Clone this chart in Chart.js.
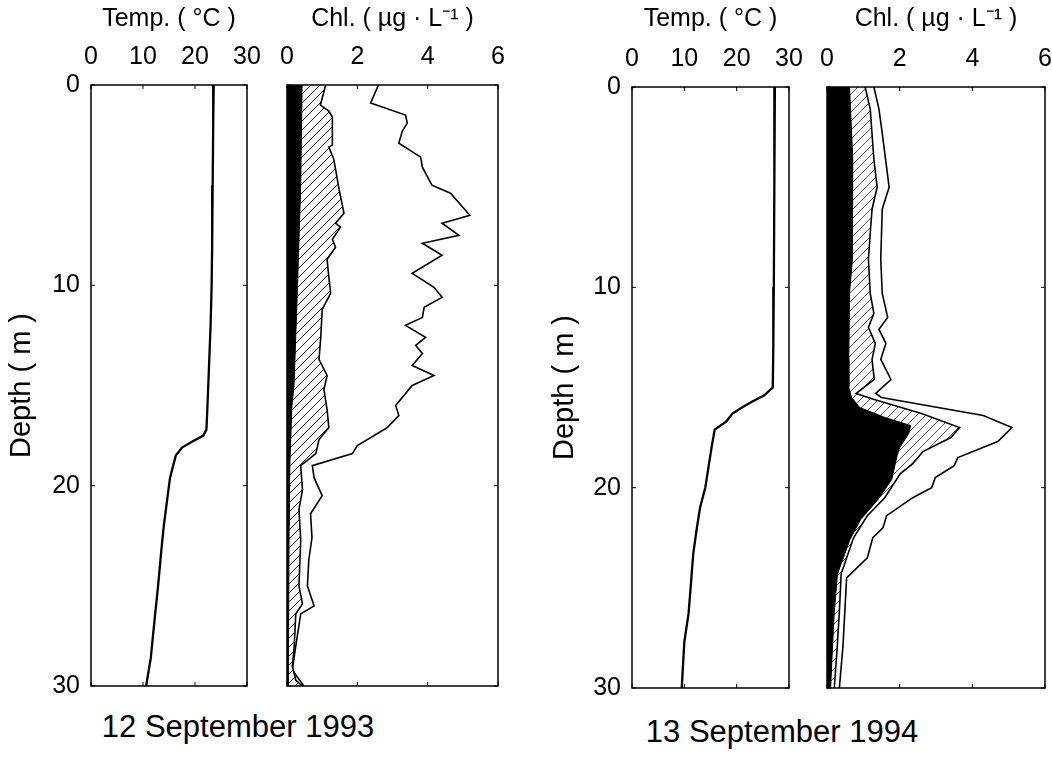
<!DOCTYPE html>
<html>
<head>
<meta charset="utf-8">
<script src="https://cdn.jsdelivr.net/npm/chart.js@4"></script>
<style>
  body { margin: 0; background: #fff; width: 1052px; height: 757px; position: relative; overflow: hidden; font-family: "Liberation Sans", Arial, sans-serif; }
  .panel { position: absolute; top: 0; }
  .caption { position: absolute; font-size: 31px; color: #000; white-space: nowrap; transform: translateX(-50%); }
</style>
</head>
<body>
<div class="panel" style="left:0px"><canvas id="t93" width="260" height="700"></canvas></div>
<div class="panel" style="left:270px"><canvas id="c93" width="240" height="700"></canvas></div>
<div class="panel" style="left:540px"><canvas id="t94" width="272" height="702"></canvas></div>
<div class="panel" style="left:810px"><canvas id="c94" width="242" height="702"></canvas></div>
<div class="caption" style="left:238px; top:709px">12 September 1993</div>
<div class="caption" style="left:782px; top:714px">13 September 1994</div>
<script>
// axis ticks
const tempTicks = [0, 10, 20, 30];
const chlTicks = [0, 2, 4, 6];
const depthTicks = [0, 10, 20, 30];

// 12 September 1993 - temperature profile
const depthT93 = [0, 2, 5, 8, 10, 12, 14, 16, 17.2, 17.5, 17.8, 18.1, 18.5, 19, 19.6, 20, 21, 22, 23.3, 25, 26.5, 28.6, 30];
const temp93 = [23.6, 23.5, 23.4, 23.3, 23.2, 23.0, 22.7, 22.4, 22.2, 21.6, 19.5, 17.5, 16.3, 15.8, 15.2, 15.0, 14.5, 14.0, 13.5, 12.9, 12.3, 11.5, 10.6];

// 1993 chlorophyll: small fraction (black), middle fraction (hatched), total (line)
const depthA93 = [0, 5, 10, 15, 16, 19, 22, 25.7, 28, 30];
const chlA93 = [0.43, 0.39, 0.3, 0.2, 0.14, 0.08, 0.06, 0.05, 0.04, 0.03];
const depthB93 = [0, 1.0, 1.3, 1.6, 3.0, 3.1, 3.7, 5.2, 6.4, 6.9, 7.1, 7.7, 8.1, 8.7, 9.6, 10.4, 11.2, 12.6, 13.7, 14.5, 15.2, 16.2, 17.1, 17.7, 18.4, 19.0, 20.2, 21.2, 22.7, 25.0, 25.9, 26.4, 28.2, 29.0, 29.7, 30];
const chlB93 = [1.1, 0.95, 1.19, 1.29, 1.29, 1.19, 1.33, 1.48, 1.62, 1.38, 1.52, 1.29, 1.38, 1.14, 1.19, 1.24, 1.0, 0.96, 0.91, 1.14, 1.05, 1.14, 1.19, 0.91, 0.82, 0.39, 0.44, 0.34, 0.39, 0.34, 0.44, 0.25, 0.2, 0.15, 0.25, 0.43];
const depthC93 = [0, 0.9, 1.5, 1.9, 2.3, 2.9, 3.6, 4.1, 5.0, 5.4, 6.5, 6.9, 7.5, 7.9, 8.5, 9.4, 10.1, 10.6, 11.1, 11.6, 12.0, 12.6, 13.0, 13.4, 14.0, 14.5, 15.0, 16.0, 16.5, 17.1, 18.0, 18.4, 19.0, 19.6, 20.5, 21.4, 22.6, 23.7, 25.0, 26.0, 26.4, 28.0, 29.2, 30];
const chlC93 = [2.6, 2.38, 3.37, 3.42, 3.28, 3.18, 3.8, 3.85, 4.12, 4.65, 5.2, 4.41, 4.89, 3.85, 4.41, 3.56, 4.18, 4.41, 3.9, 3.85, 3.37, 3.94, 3.66, 3.85, 3.56, 4.18, 3.56, 3.09, 3.18, 2.85, 2.0, 1.86, 0.72, 0.77, 1.0, 0.67, 0.71, 0.62, 0.58, 0.77, 0.39, 0.25, 0.15, 0.48];

// 13 September 1994 - temperature profile
const depthT94 = [0, 5, 10, 13, 15, 15.4, 15.7, 16, 16.3, 16.7, 17.1, 18, 19, 20, 21, 22, 23.3, 25, 26.3, 27.7, 30];
const temp94 = [27.3, 27.2, 27.1, 27.0, 26.9, 25.2, 23, 21, 19.2, 18, 15.8, 15.2, 14.6, 14.0, 13.0, 12.4, 11.7, 11.2, 10.8, 10.0, 9.5];

// 1994 chlorophyll
const depthA94 = [0, 3.6, 8.6, 10.3, 13.6, 15.0, 15.5, 16.0, 16.5, 16.9, 17.3, 18.0, 18.4, 19.6, 20.6, 21.6, 22.6, 23.5, 24.3, 26.2, 28, 30];
const chlA94 = [0.62, 0.71, 0.7, 0.62, 0.6, 0.6, 0.68, 0.9, 1.6, 2.3, 2.25, 2.0, 1.93, 1.78, 1.4, 0.92, 0.63, 0.45, 0.29, 0.2, 0.15, 0.1];
const depthB94 = [0, 1.1, 3.6, 5.0, 6.1, 7.3, 8.6, 10.3, 11.3, 12.0, 12.8, 13.6, 14.6, 15.3, 15.6, 16.3, 17.0, 17.5, 18.2, 18.8, 19.3, 20.5, 21.4, 22.5, 24.3, 26.2, 28, 30];
const chlB94 = [1.05, 1.19, 1.29, 1.38, 1.24, 1.19, 1.14, 1.19, 1.29, 1.14, 1.33, 1.24, 1.3, 0.8, 1.3, 2.6, 3.65, 3.41, 2.64, 2.36, 2.02, 1.59, 1.11, 0.73, 0.39, 0.34, 0.28, 0.2];
const depthC94 = [0, 1.1, 2.3, 5.0, 6.1, 8.6, 10.3, 11.5, 12.1, 12.8, 13.6, 14.6, 15.3, 15.5, 16.4, 17.0, 17.7, 18.5, 18.9, 19.5, 20.0, 20.5, 21.4, 22.0, 22.5, 23.5, 24.5, 26.2, 27.9, 30];
const chlC94 = [1.29, 1.43, 1.52, 1.71, 1.52, 1.48, 1.52, 1.67, 1.43, 1.62, 1.48, 1.76, 1.34, 1.5, 4.3, 5.09, 4.7, 3.6, 3.5, 2.98, 2.88, 2.36, 1.64, 1.54, 1.26, 1.11, 0.54, 0.49, 0.44, 0.34];

const FONT = "'Liberation Sans', Arial, sans-serif";

function pts(xs, ys) {
    return xs.map((v, i) => ({ x: v, y: ys[i] }));
}

function makeHatch(color) {
    const c = document.createElement('canvas');
    c.width = 9; c.height = 9;
    const g = c.getContext('2d');
    g.fillStyle = '#fff';
    g.fillRect(0, 0, 9, 9);
    g.strokeStyle = color;
    g.lineWidth = 1;
    g.beginPath();
    g.moveTo(0, 9); g.lineTo(9, 0);
    g.moveTo(-1, 1); g.lineTo(1, -1);
    g.moveTo(8, 10); g.lineTo(10, 8);
    g.stroke();
    return g.createPattern(c, 'repeat');
}

// box round the plot area with inward tick marks (matlab style)
const frame = {
    id: 'frame',
    afterDraw(chart, args, opts) {
        const { ctx, chartArea: a, scales } = chart;
        ctx.save();
        ctx.strokeStyle = '#000';
        ctx.lineWidth = 1.5;
        ctx.strokeRect(a.left, a.top, a.right - a.left, a.bottom - a.top);
        ctx.lineWidth = 1;
        ctx.beginPath();
        opts.xTicks.forEach(v => {
            const px = scales.x.getPixelForValue(v);
            ctx.moveTo(px, a.top); ctx.lineTo(px, a.top + 4);
            ctx.moveTo(px, a.bottom); ctx.lineTo(px, a.bottom - 4);
        });
        depthTicks.forEach(v => {
            const py = scales.y.getPixelForValue(v);
            ctx.moveTo(a.left, py); ctx.lineTo(a.left + 4, py);
            ctx.moveTo(a.right, py); ctx.lineTo(a.right - 4, py);
        });
        ctx.stroke();
        ctx.restore();
    }
};

function makeChart(id, cfg) {
    const showDepth = cfg.showDepth;
    return new Chart(document.getElementById(id), {
        type: 'line',
        data: { datasets: cfg.datasets },
        options: {
            responsive: false,
            animation: false,
            indexAxis: 'y',
            layout: { padding: cfg.padding },
            elements: { point: { radius: 0 }, line: { tension: 0 } },
            plugins: {
                legend: { display: false },
                tooltip: { enabled: false },
                frame: { xTicks: cfg.xTicks }
            },
            scales: {
                x: {
                    type: 'linear',
                    position: 'top',
                    min: cfg.xMin,
                    max: cfg.xMax,
                    afterBuildTicks: s => { s.ticks = cfg.xTicks.map(v => ({ value: v })); },
                    afterFit: s => { s.height = cfg.topH; s.paddingLeft = 0; s.paddingRight = 0; },
                    grid: { display: false, drawTicks: false },
                    border: { display: false },
                    ticks: { color: '#000', padding: 13, font: { family: FONT, size: 25 } },
                    title: {
                        display: true,
                        text: cfg.xTitle,
                        color: '#000',
                        padding: { top: 4, bottom: 0 },
                        font: { family: FONT, size: 25 }
                    }
                },
                y: {
                    type: 'linear',
                    reverse: true,
                    min: 0,
                    max: 30,
                    afterBuildTicks: s => { s.ticks = depthTicks.map(v => ({ value: v })); },
                    afterFit: s => { s.width = cfg.leftW; s.paddingTop = 0; s.paddingBottom = 0; },
                    grid: { display: false, drawTicks: false },
                    border: { display: false },
                    ticks: { display: showDepth, color: '#000', padding: 11, font: { family: FONT, size: 25 } },
                    title: {
                        display: showDepth,
                        text: 'Depth ( m )',
                        color: '#000',
                        padding: { top: cfg.titlePad || 8, bottom: 0 },
                        font: { family: FONT, size: 29 }
                    }
                }
            }
        },
        plugins: [frame]
    });
}

function tempSet(d, t) {
    return [{ data: pts(t, d), borderColor: '#000', borderWidth: 2.3, fill: false }];
}

function chlSets(dA, cA, dB, cB, dC, cC, hatchColor) {
    return [
        { data: pts(cA, dA), borderColor: '#000', borderWidth: 1, backgroundColor: '#000', fill: 'origin' },
        { data: pts(cB, dB), borderColor: '#000', borderWidth: 1.6, backgroundColor: makeHatch(hatchColor), fill: '-1' },
        { data: pts(cC, dC), borderColor: '#000', borderWidth: 1.6, fill: false }
    ];
}

makeChart('t93', {
    datasets: tempSet(depthT93, temp93), xMin: 0, xMax: 30, xTicks: tempTicks,
    xTitle: 'Temp. ( °C )', showDepth: true, topH: 85, leftW: 91,
    padding: { left: 0, top: 0, right: 13, bottom: 14 }, titlePad: 5
});
makeChart('c93', {
    datasets: chlSets(depthA93, chlA93, depthB93, chlB93, depthC93, chlC93, '#222'),
    xMin: 0, xMax: 6, xTicks: chlTicks,
    xTitle: 'Chl. ( µg · L⁻¹ )', showDepth: false, topH: 85, leftW: 0,
    padding: { left: 17, top: 0, right: 12, bottom: 14 }
});
makeChart('t94', {
    datasets: tempSet(depthT94, temp94), xMin: 0, xMax: 30, xTicks: tempTicks,
    xTitle: 'Temp. ( °C )', showDepth: true, topH: 87, leftW: 92,
    padding: { left: 0, top: 0, right: 23, bottom: 14 }, titlePad: 8
});
makeChart('c94', {
    datasets: chlSets(depthA94, chlA94, depthB94, chlB94, depthC94, chlC94, '#555'),
    xMin: 0, xMax: 6, xTicks: chlTicks,
    xTitle: 'Chl. ( µg · L⁻¹ )', showDepth: false, topH: 87, leftW: 0,
    padding: { left: 17, top: 0, right: 7, bottom: 14 }
});
</script>
</body>
</html>
